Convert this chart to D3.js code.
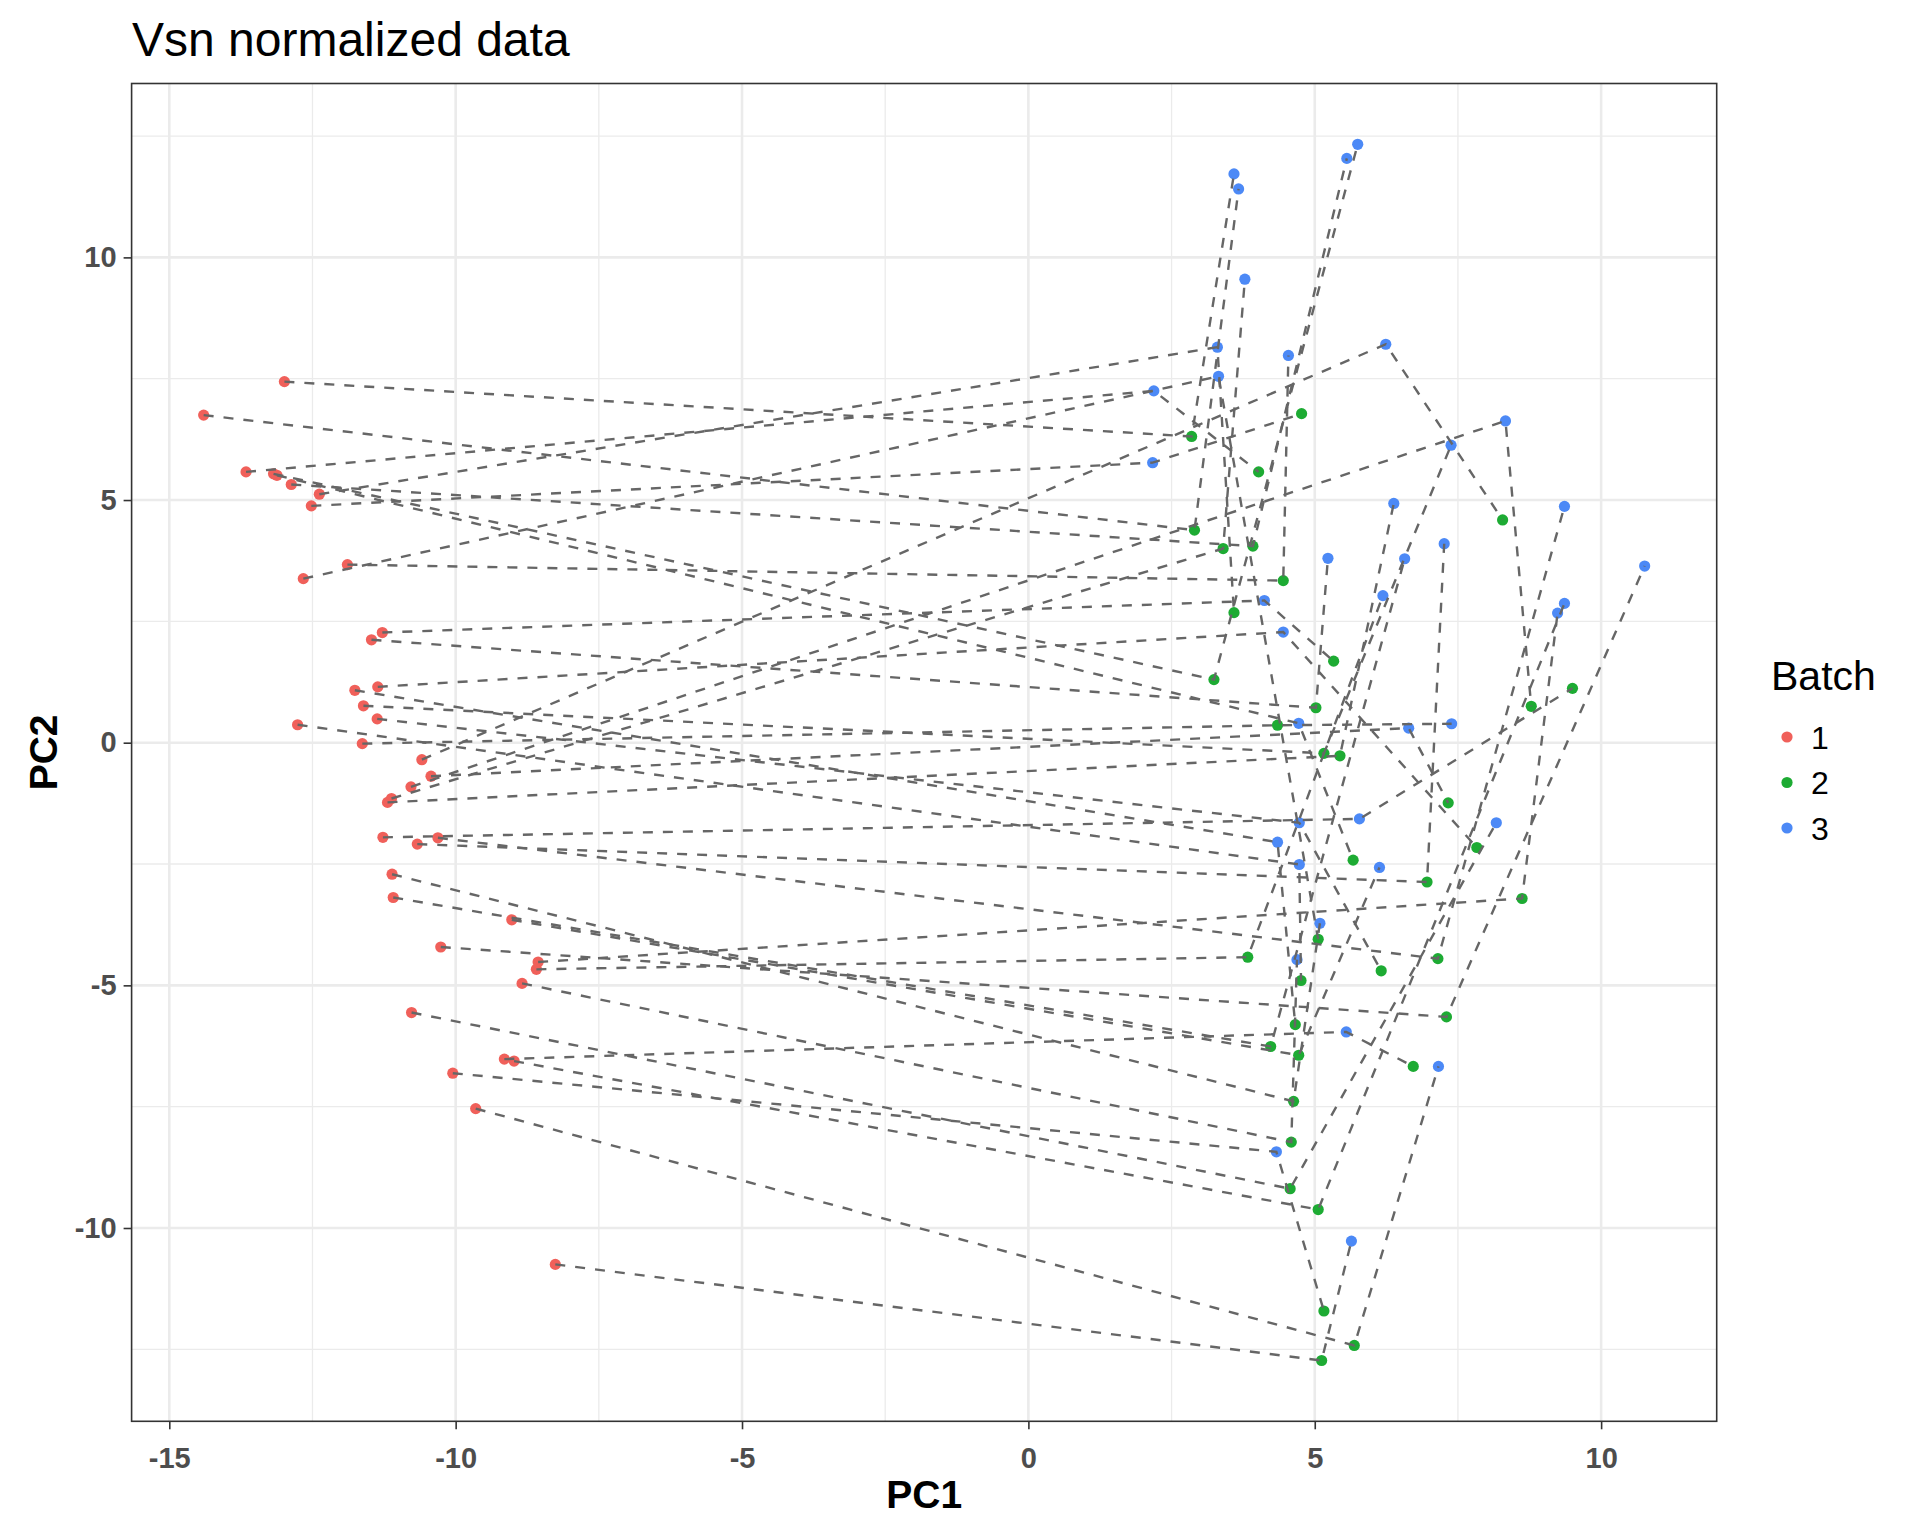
<!DOCTYPE html>
<html>
<head>
<meta charset="utf-8">
<script src="https://cdn.jsdelivr.net/npm/d3@7"></script>
<style>
  html, body { margin: 0; padding: 0; background: #ffffff; }
  svg { display: block; }
  text { font-family: "Liberation Sans", Arial, Helvetica, sans-serif; }
</style>
</head>
<body>
<div id="chart"></div>
<script>
// ---------------- data ----------------
const sampleIds = d3.range(1, 40);
const batches = ["1", "2", "3"];
const batchColors = ["#F0605A", "#1DAB33", "#4C89F6"];

const batch1PC1 = [-12.99,-14.40,-13.66,-13.18,-13.12,-12.87,-12.38,-12.52,-11.89,-12.66,-11.28,-11.47,-11.36,-11.76,-11.61,-11.37,-12.76,-11.63,-10.59,-10.43,-10.78,-11.12,-11.19,-11.27,-10.31,-10.67,-11.11,-11.09,-9.02,-10.26,-8.56,-8.59,-8.84,-10.77,-9.15,-8.98,-10.05,-9.65,-8.26];
const batch1PC2 = [7.44,6.75,5.58,5.54,5.51,5.32,5.12,4.88,3.67,3.38,2.27,2.12,1.15,1.08,0.76,0.49,0.37,-0.02,-0.35,-0.69,-0.91,-1.15,-1.23,-1.95,-1.96,-2.09,-2.71,-3.19,-3.65,-4.21,-4.52,-4.67,-4.96,-5.56,-6.52,-6.56,-6.81,-7.54,-10.75];
const batch2PC1 = [2.85,2.90,4.02,3.24,5.67,3.92,3.59,4.77,4.45,5.06,5.33,5.02,7.83,4.66,5.16,6.16,4.76,4.35,8.28,7.33,8.78,3.40,5.44,9.50,7.15,6.96,4.63,4.23,4.72,7.30,8.62,3.83,4.59,4.57,6.72,5.06,5.16,5.69,5.12];
const batch2PC2 = [6.31,4.38,5.58,1.30,-2.42,4.05,2.68,6.78,3.34,-4.05,1.68,0.72,-2.16,-5.81,-0.22,-4.70,-4.90,0.36,4.59,-1.24,0.75,4.00,-0.27,1.12,-4.45,-2.87,-7.39,-6.26,-6.44,-5.65,-3.21,-4.42,-8.23,-9.19,-6.67,-9.62,-11.71,-12.42,-12.73];
const batch3PC1 = [3.59,3.67,2.19,5.75,4.72,5.56,3.30,2.17,4.54,3.32,4.12,5.23,4.45,4.35,7.38,4.73,4.73,7.39,6.24,6.64,8.33,3.78,6.38,5.78,9.36,7.26,5.09,6.57,6.13,10.76,9.24,6.19,4.69,8.17,5.55,9.36,4.33,7.16,5.64];
const batch3PC2 = [11.72,11.41,7.25,12.33,0.40,12.04,8.15,5.77,7.98,7.55,2.93,3.80,2.28,-2.05,6.13,-1.65,-2.51,0.39,8.21,0.30,6.63,9.55,4.93,-1.57,4.87,4.10,-3.72,3.79,-2.57,3.64,2.67,3.03,-4.47,-1.65,-5.96,2.87,-8.43,-6.67,-10.27];

const xTicks = [-15, -10, -5, 0, 5, 10];
const xMinor = [-12.5, -7.5, -2.5, 2.5, 7.5];
const yTicks = [-10, -5, 0, 5, 10];
const yMinor = [-12.5, -7.5, -2.5, 2.5, 7.5, 12.5];

const titleText = "Vsn normalized data";
const xTitle = "PC1";
const yTitle = "PC2";
const legendTitle = "Batch";

// ---------------- build records ----------------
const pc1 = [batch1PC1, batch2PC1, batch3PC1];
const pc2 = [batch1PC2, batch2PC2, batch3PC2];
const points = [];
batches.forEach((b, bi) => {
  sampleIds.forEach((s, i) => {
    points.push({ sample: s, batch: b, bi: bi, x: pc1[bi][i], y: pc2[bi][i] });
  });
});
const groups = d3.group(points, d => d.sample);

// ---------------- layout ----------------
const W = 1920, H = 1536;
const panel = { left: 131.6, right: 1716.7, top: 83.5, bottom: 1421.3 };

function expand(ext) { const r = ext[1] - ext[0]; return [ext[0] - 0.05 * r, ext[1] + 0.05 * r]; }
const xScale = d3.scaleLinear().domain(expand(d3.extent(points, d => d.x))).range([panel.left, panel.right]);
const yScale = d3.scaleLinear().domain(expand(d3.extent(points, d => d.y))).range([panel.bottom, panel.top]);
const color = d3.scaleOrdinal().domain(batches).range(batchColors);

const svg = d3.select("#chart").append("svg").attr("width", W).attr("height", H);
svg.append("rect").attr("width", W).attr("height", H).attr("fill", "#ffffff");

// grid
const grid = svg.append("g");
grid.selectAll(".vminor").data(xMinor).join("line")
  .attr("x1", d => xScale(d)).attr("x2", d => xScale(d))
  .attr("y1", panel.top).attr("y2", panel.bottom)
  .attr("stroke", "#EBEBEB").attr("stroke-width", 1.3);
grid.selectAll(".hminor").data(yMinor).join("line")
  .attr("y1", d => yScale(d)).attr("y2", d => yScale(d))
  .attr("x1", panel.left).attr("x2", panel.right)
  .attr("stroke", "#EBEBEB").attr("stroke-width", 1.3);
grid.selectAll(".vmajor").data(xTicks).join("line")
  .attr("x1", d => xScale(d)).attr("x2", d => xScale(d))
  .attr("y1", panel.top).attr("y2", panel.bottom)
  .attr("stroke", "#EBEBEB").attr("stroke-width", 2.6);
grid.selectAll(".hmajor").data(yTicks).join("line")
  .attr("y1", d => yScale(d)).attr("y2", d => yScale(d))
  .attr("x1", panel.left).attr("x2", panel.right)
  .attr("stroke", "#EBEBEB").attr("stroke-width", 2.6);

// points
svg.append("g").selectAll("circle").data(points).join("circle")
  .attr("cx", d => xScale(d.x)).attr("cy", d => yScale(d.y))
  .attr("r", 5.6).attr("fill", d => color(d.batch));

// dashed sample paths (sorted by PC1, like geom_line)
const line = d3.line().x(d => xScale(d.x)).y(d => yScale(d.y));
svg.append("g").selectAll("path").data(Array.from(groups.values()))
  .join("path")
  .attr("d", g => line(g.slice().sort((a, b) => a.x - b.x)))
  .attr("fill", "none").attr("stroke", "#666666").attr("stroke-width", 2.4)
  .attr("stroke-dasharray", "10,10");

// panel border
svg.append("rect")
  .attr("x", panel.left).attr("y", panel.top)
  .attr("width", panel.right - panel.left).attr("height", panel.bottom - panel.top)
  .attr("fill", "none").attr("stroke", "#333333").attr("stroke-width", 1.6);

// axes
const xAxis = d3.axisBottom(xScale).tickValues(xTicks).tickSize(8).tickPadding(18).tickFormat(d3.format("d"));
const yAxis = d3.axisLeft(yScale).tickValues(yTicks).tickSize(8).tickPadding(7).tickFormat(d3.format("d"));
const gx = svg.append("g").attr("transform", `translate(0,${panel.bottom})`).call(xAxis);
const gy = svg.append("g").attr("transform", `translate(${panel.left},0)`).call(yAxis);
[gx, gy].forEach(g => {
  g.select(".domain").remove();
  g.selectAll(".tick line").attr("stroke", "#333333").attr("stroke-width", 1.6);
  g.selectAll(".tick text")
    .attr("fill", "#4D4D4D").attr("font-size", 29).attr("font-weight", "bold")
    .attr("font-family", "Liberation Sans, Arial, sans-serif");
});
gx.selectAll(".tick text").text(d => String(d).replace("\u2212", "-"));
gy.selectAll(".tick text").text(d => String(d).replace("\u2212", "-"));

// titles
svg.append("text").attr("x", 132).attr("y", 56)
  .attr("font-size", 48).attr("fill", "#000000").text(titleText);
svg.append("text").attr("x", (panel.left + panel.right) / 2).attr("y", 1508)
  .attr("text-anchor", "middle").attr("font-size", 39).attr("font-weight", "bold")
  .attr("fill", "#000000").text(xTitle);
svg.append("text")
  .attr("transform", `translate(57,${(panel.top + panel.bottom) / 2}) rotate(-90)`)
  .attr("text-anchor", "middle").attr("font-size", 39).attr("font-weight", "bold")
  .attr("fill", "#000000").text(yTitle);

// legend
const lg = svg.append("g").attr("transform", "translate(1771,0)");
lg.append("text").attr("x", 0).attr("y", 690).attr("font-size", 41).attr("fill", "#000000").text(legendTitle);
const items = lg.selectAll(".item").data(batches).join("g")
  .attr("transform", (d, i) => `translate(0,${737 + i * 45.5})`);
items.append("circle").attr("cx", 16).attr("cy", 0).attr("r", 5.6).attr("fill", d => color(d));
items.append("text").attr("x", 40).attr("y", 11.5).attr("font-size", 32).attr("fill", "#000000").text(d => d);
</script>
</body>
</html>
